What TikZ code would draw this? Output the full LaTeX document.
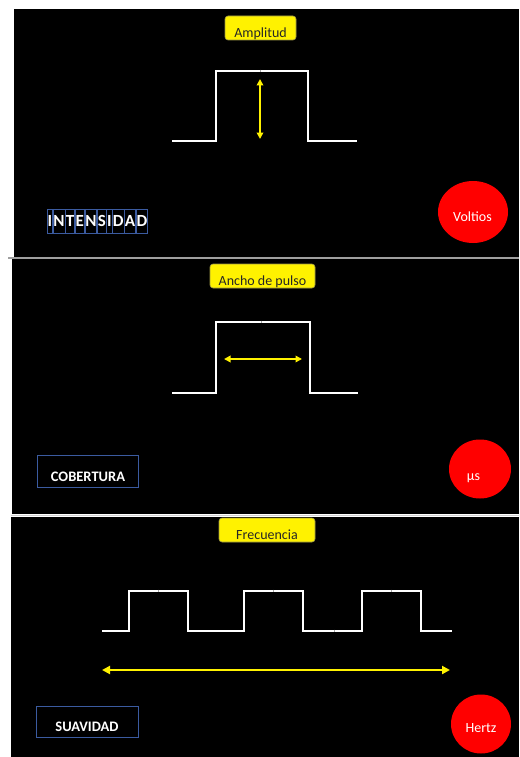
\documentclass[tikz,border=0pt]{standalone}
\usepackage{fontspec}
\setmainfont{Carlito}
\usetikzlibrary{arrows.meta,shapes.geometric}
\definecolor{boxblue}{HTML}{3B5BA0}
\definecolor{lbltext}{HTML}{262626}
\begin{document}
\begin{tikzpicture}[x=1pt,y=-1pt,
 panel/.style={fill=black,draw=none},
 sep/.style={line width=1.5pt},
 pulse/.style={draw=white,line width=2.8pt,line join=miter},
 tick/.style={draw=gray!70,line width=0.8pt},
 yarrow/.style={draw=yellow,line width=2pt,{Triangle[width=6.5pt,length=6.5pt]}-{Triangle[width=6.5pt,length=6.5pt]}},
 yarrowbig/.style={draw=yellow,line width=2pt,{Triangle[width=8pt,length=8pt]}-{Triangle[width=8pt,length=8pt]}},
 lbl/.style={fill=yellow,draw=yellow!55!black,line width=0.6pt,rounded corners=3pt,text=lbltext,
   font=\fontsize{14}{16}\selectfont,inner sep=0pt,minimum height=24pt,text height=21.5pt,text depth=2.5pt},
 unit/.style={ellipse,fill=red,draw=none,inner sep=0pt},
 unittext/.style={text=white,font=\fontsize{14}{16}\selectfont,inner sep=0pt},
 quality/.style={draw=boxblue,line width=0.8pt,inner sep=0pt},
 qtext/.style={text=white,font=\bfseries\fontsize{14.5}{16}\selectfont,inner sep=0pt},
 letter/.style={draw=boxblue,line width=0.7pt,text=white,font=\bfseries\fontsize{17}{19}\selectfont,
   inner xsep=0.3pt,inner ysep=0pt,minimum height=24pt,anchor=west}
]
\useasboundingbox (0,0) rectangle (519,757);
\fill[white] (0,0) rectangle (519,757);
% panels
\fill[panel] (14,9) rectangle (519,257);
\draw[sep,gray!75] (8,258) -- (519,258);
\fill[panel] (12,259) rectangle (519,514);
\draw[sep,gray!35] (11,515.5) -- (519,515.5);
\fill[panel] (11,517) rectangle (519,757);

% ---------- Panel 1 ----------
\node[lbl,minimum width=71pt] (amp) at (260.5,28) {Amplitud};
\draw[pulse] (172,141) -- (216,141) -- (216,71) -- (308,71) -- (308,141) -- (357,141);
\draw[tick] (260,69.6) -- (260,72.4);
\coordinate (a1t) at (260,79);
\coordinate (a1b) at (260,139);
\draw[yarrow] (a1t) -- (a1b);
\node[letter] (L0) at (47,221) {I};
\foreach \ch [count=\i, remember=\i as \j (initially 0)] in {N,T,E,N,S,I,D,A,D}
  {\node[letter] (L\i) at (L\j.east) {\ch};}
\node[unit,minimum width=70pt,minimum height=62pt] (volt) at (473,212) {};
\node[unittext] (voltt) at (472.5,217) {Voltios};

% ---------- Panel 2 ----------
\node[lbl,minimum width=105pt] (anc) at (262.5,276) {Ancho de pulso};
\draw[pulse] (172,393) -- (216,393) -- (216,322) -- (310,322) -- (310,393) -- (358,393);
\draw[tick] (261,320.6) -- (261,323.4);
\coordinate (a2l) at (224,359);
\coordinate (a2r) at (302,359);
\draw[yarrow] (a2l) -- (a2r);
\node[quality,minimum width=101pt,minimum height=32pt] (cob) at (87.5,471) {};
\node[qtext] (cobt) at (88,476.5) {COBERTURA};
\node[unit,minimum width=62pt,minimum height=59pt] (mus) at (480,469) {};
\node[unittext] (must) at (473.5,478) {µs};

% ---------- Panel 3 ----------
\node[lbl,minimum width=96pt] (fre) at (267,530) {Frecuencia};
\draw[pulse] (102,631) -- (129,631) -- (129,591) -- (188,591) -- (188,631) -- (244,631) -- (244,591)
  -- (303,591) -- (303,631) -- (362,631) -- (362,591) -- (421,591) -- (421,631) -- (452,631);
\foreach \tx in {158,273,391} {\draw[tick] (\tx,589.6) -- (\tx,592.4);}
\draw[tick] (334,629.6) -- (334,632.4);
\coordinate (a3l) at (102,670);
\coordinate (a3r) at (450,670);
\draw[yarrowbig] (a3l) -- (a3r);
\node[quality,minimum width=102pt,minimum height=31pt] (sua) at (87,721.5) {};
\node[qtext] (suat) at (87,726.5) {SUAVIDAD};
\node[unit,minimum width=60pt,minimum height=59pt] (hz) at (481,724) {};
\node[unittext] (hzt) at (481,728) {Hertz};
\end{tikzpicture}
\end{document}
